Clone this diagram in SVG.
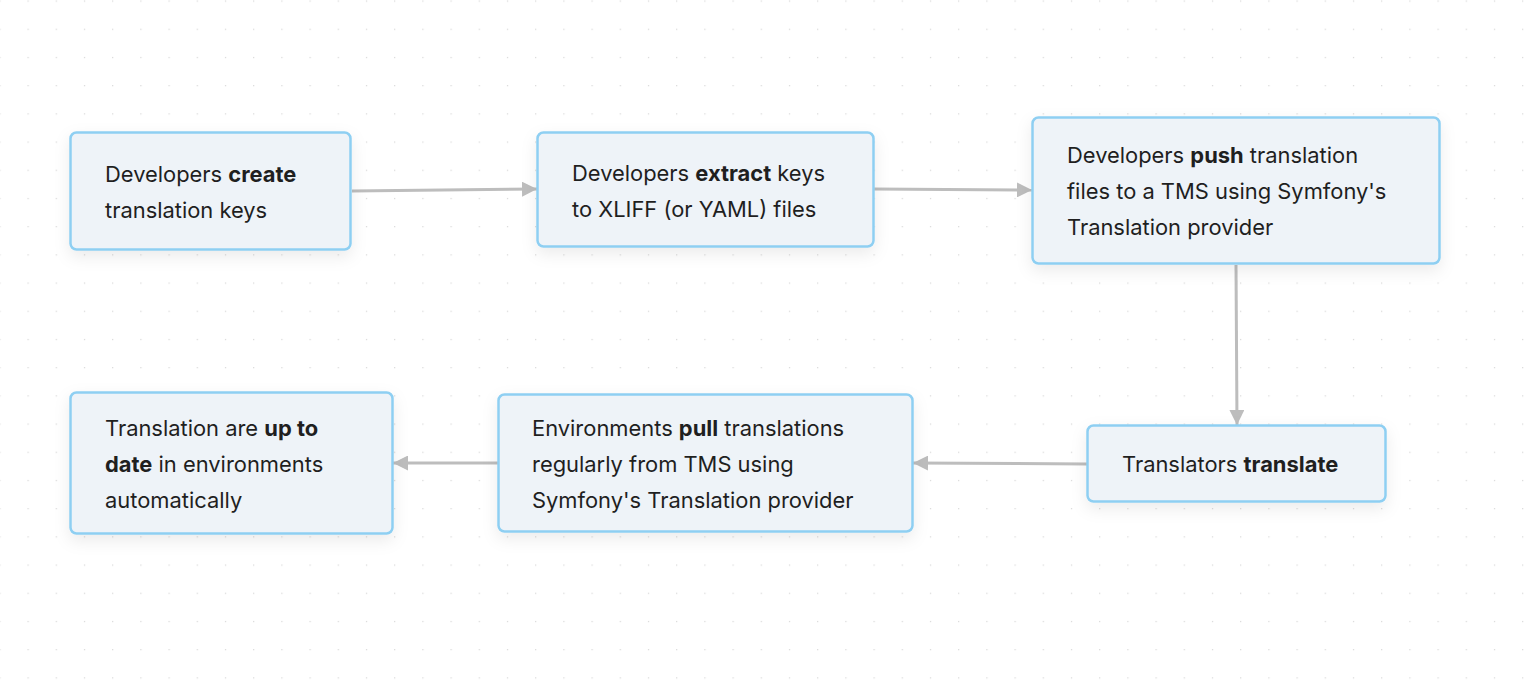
<svg xmlns="http://www.w3.org/2000/svg" width="1526" height="680" viewBox="0 0 1526 680">
<defs>
<pattern id="dots" x="27.5" y="0.5" width="28.2" height="28.2" patternUnits="userSpaceOnUse">
<rect x="0" y="0" width="1.2" height="1.2" fill="#d6d6d6"/>
</pattern>
<marker id="arr" viewBox="0 0 10 10" refX="10" refY="5" markerWidth="5" markerHeight="5" orient="auto" markerUnits="strokeWidth">
<path d="M0,0 L10,5 L0,10 z" fill="#bdbdbd"/>
</marker>
<filter id="sh" x="-20%" y="-20%" width="140%" height="160%">
<feDropShadow dx="0" dy="6" stdDeviation="8" flood-color="#000" flood-opacity="0.08"/>
</filter>
<style>
.box{fill:#eef3f8;stroke:#8ecff2;stroke-width:2.5;filter:url(#sh)}
.t{font-family:Inter,"Liberation Sans",sans-serif;font-size:21.9px;fill:#1f1f1f}
.b{font-weight:700}
.e{fill:none;stroke:#bdbdbd;stroke-width:3;marker-end:url(#arr)}
</style>
</defs>
<rect width="1526" height="680" fill="#fff"/>
<rect width="1526" height="680" fill="url(#dots)"/>
<g id="connectors">
<path class="e" d="M352,191 L537,189"/>
<path class="e" d="M874,189 L1032,190"/>
<path class="e" d="M1236,265 L1237,425"/>
<path class="e" d="M1087,464 L913,463"/>
<path class="e" d="M498,463 L393,463"/>
</g>
<g id="n1">
<rect class="box" x="70.5" y="132.5" width="280" height="117" rx="6"/>
<text class="t" x="105" y="182">Developers <tspan class="b">create</tspan></text>
<text class="t" x="105" y="218">translation keys</text>
</g>
<g id="n2">
<rect class="box" x="537.5" y="132.5" width="336" height="114" rx="6"/>
<text class="t" x="572" y="181">Developers <tspan class="b">extract</tspan> keys</text>
<text class="t" x="572" y="217">to XLIFF (or YAML) files</text>
</g>
<g id="n3">
<rect class="box" x="1032.5" y="117.5" width="407" height="146" rx="6"/>
<text class="t" x="1067" y="163">Developers <tspan class="b">push</tspan> translation</text>
<text class="t" x="1067" y="199">files to a TMS using Symfony's</text>
<text class="t" x="1067" y="235">Translation provider</text>
</g>
<g id="n4">
<rect class="box" x="1087.5" y="425.5" width="298" height="76" rx="6"/>
<text class="t" x="1122" y="472">Translators <tspan class="b">translate</tspan></text>
</g>
<g id="n5">
<rect class="box" x="498.5" y="394.5" width="414" height="137" rx="6"/>
<text class="t" x="532" y="436">Environments <tspan class="b">pull</tspan> translations</text>
<text class="t" x="532" y="472">regularly from TMS using</text>
<text class="t" x="532" y="508">Symfony's Translation provider</text>
</g>
<g id="n6">
<rect class="box" x="70.5" y="392.5" width="322" height="141" rx="6"/>
<text class="t" x="105" y="436">Translation are <tspan class="b">up to</tspan></text>
<text class="t" x="105" y="472"><tspan class="b">date</tspan> in environments</text>
<text class="t" x="105" y="508">automatically</text>
</g>
</svg>
